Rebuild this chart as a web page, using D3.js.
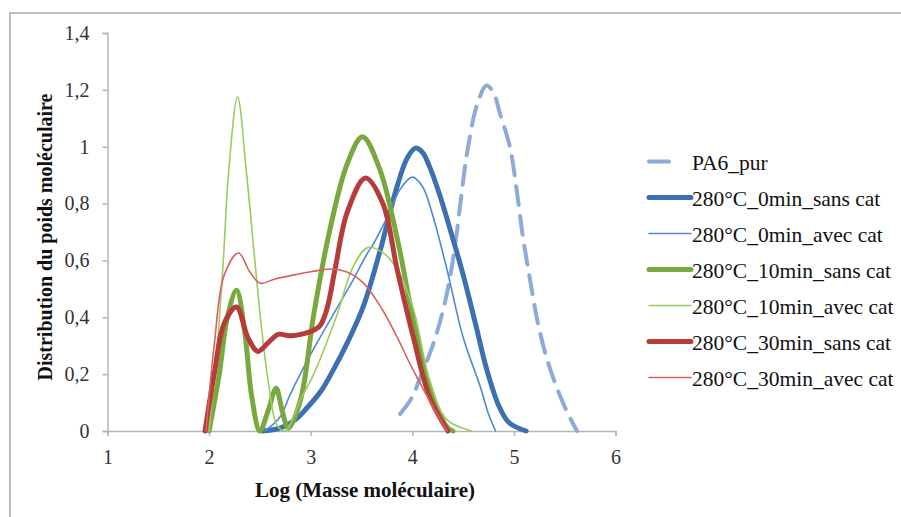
<!DOCTYPE html>
<html>
<head>
<meta charset="utf-8">
<script src="https://cdn.jsdelivr.net/npm/d3@7"></script>
<style>
  html, body { margin: 0; padding: 0; background: #fff; }
  svg { display: block; }
</style>
</head>
<body>
<svg id="chart" width="901" height="517"></svg>
<script>
// ---- data ----
const seriesNames = ["PA6_pur", "280°C_0min_sans cat", "280°C_0min_avec cat",
  "280°C_10min_sans cat", "280°C_10min_avec cat", "280°C_30min_sans cat", "280°C_30min_avec cat"];

const pa6X = [3.88, 4.0, 4.08, 4.18, 4.27, 4.35, 4.42, 4.48, 4.54, 4.64, 4.73, 4.8, 4.86, 4.96, 5.03, 5.09, 5.16, 5.23, 5.32, 5.42, 5.52, 5.62];
const pa6Y = [0.06, 0.12, 0.19, 0.28, 0.38, 0.5, 0.65, 0.82, 0.98, 1.15, 1.215, 1.19, 1.12, 1.0, 0.84, 0.68, 0.53, 0.39, 0.26, 0.155, 0.07, 0.0];

const s0X = [2.52, 2.7, 2.85, 2.96, 3.1, 3.2, 3.36, 3.52, 3.68, 3.85, 3.95, 4.03, 4.1, 4.17, 4.27, 4.38, 4.5, 4.62, 4.73, 4.85, 4.95, 5.12];
const s0Y = [0.0, 0.01, 0.04, 0.08, 0.14, 0.2, 0.31, 0.44, 0.63, 0.86, 0.96, 0.995, 0.98, 0.93, 0.83, 0.7, 0.55, 0.38, 0.22, 0.09, 0.03, 0.0];

const a0X = [2.55, 2.7, 2.8, 3.0, 3.19, 3.4, 3.55, 3.62, 3.75, 3.88, 4.0, 4.1, 4.2, 4.34, 4.5, 4.67, 4.75, 4.82];
const a0Y = [0.0, 0.05, 0.13, 0.27, 0.39, 0.52, 0.62, 0.66, 0.75, 0.85, 0.893, 0.86, 0.76, 0.57, 0.33, 0.155, 0.06, 0.0];

const s10X = [2.0, 2.1, 2.18, 2.27, 2.35, 2.42, 2.5, 2.58, 2.66, 2.72, 2.78, 2.9, 3.03, 3.19, 3.36, 3.51, 3.68, 3.85, 4.01, 4.17, 4.34, 4.4];
const s10Y = [0.0, 0.2, 0.4, 0.495, 0.35, 0.12, 0.0, 0.07, 0.15, 0.07, 0.01, 0.11, 0.41, 0.71, 0.94, 1.035, 0.92, 0.68, 0.39, 0.155, 0.015, 0.0];

const a10X = [2.0, 2.08, 2.14, 2.19, 2.28, 2.37, 2.45, 2.52, 2.58, 2.67, 2.75, 2.82, 2.9, 3.03, 3.26, 3.42, 3.56, 3.7, 3.85, 4.01, 4.17, 4.34, 4.58];
const a10Y = [0.0, 0.3, 0.6, 0.9, 1.175, 0.9, 0.6, 0.35, 0.18, 0.02, 0.0, 0.04, 0.11, 0.2, 0.41, 0.58, 0.645, 0.63, 0.57, 0.43, 0.18, 0.04, 0.0];

const s30X = [1.96, 2.05, 2.15, 2.27, 2.38, 2.48, 2.58, 2.68, 2.8, 3.0, 3.09, 3.16, 3.24, 3.36, 3.54, 3.71, 3.85, 4.01, 4.17, 4.35];
const s30Y = [0.0, 0.2, 0.38, 0.436, 0.33, 0.28, 0.31, 0.34, 0.335, 0.35, 0.37, 0.43, 0.57, 0.77, 0.89, 0.8, 0.57, 0.33, 0.12, 0.0];

const a30X = [1.97, 2.05, 2.15, 2.29, 2.4, 2.5, 2.65, 2.85, 3.0, 3.2, 3.35, 3.52, 3.7, 3.85, 4.0, 4.18, 4.34];
const a30Y = [0.0, 0.3, 0.55, 0.626, 0.56, 0.52, 0.535, 0.55, 0.56, 0.57, 0.56, 0.52, 0.43, 0.33, 0.22, 0.1, 0.0];

const xTicks = [1, 2, 3, 4, 5, 6];
const yTicks = [0, 0.2, 0.4, 0.6, 0.8, 1, 1.2, 1.4];
const xTitle = "Log (Masse moléculaire)";
const yTitle = "Distribution du poids moléculaire";

// ---- styles ----
const FONT = '"Liberation Serif", "Times New Roman", Times, Tinos, "DejaVu Serif", serif';
const styles = [
  { color: "#8eaad8", width: 4, dash: "19,11" },
  { color: "#3d70b0", width: 5, dash: null },
  { color: "#4d8ad6", width: 1.6, dash: null },
  { color: "#79a93e", width: 5, dash: null },
  { color: "#9ccb5f", width: 1.6, dash: null },
  { color: "#b63c3a", width: 5, dash: null },
  { color: "#d8625d", width: 1.6, dash: null }
];
const xs = [pa6X, s0X, a0X, s10X, a10X, s30X, a30X];
const ys = [pa6Y, s0Y, a0Y, s10Y, a10Y, s30Y, a30Y];

const svg = d3.select("#chart");

// outer frame (top and left edges visible)
svg.append("line").attr("x1", 10).attr("x2", 901).attr("y1", 13).attr("y2", 13)
  .attr("stroke", "#bdbdbd").attr("stroke-width", 2);
svg.append("line").attr("x1", 10).attr("x2", 10).attr("y1", 12).attr("y2", 517)
  .attr("stroke", "#bdbdbd").attr("stroke-width", 2);

const x = d3.scaleLinear().domain([1, 6]).range([107.5, 615.5]);
const y = d3.scaleLinear().domain([0, 1.4]).range([431, 33]);

const fmt = d => String(d).replace(".", ",");

const gx = svg.append("g").attr("transform", "translate(0,431)")
  .call(d3.axisBottom(x).tickValues(xTicks).tickFormat(fmt).tickSizeOuter(0).tickSize(5).tickPadding(14));
const gy = svg.append("g").attr("transform", "translate(107.5,0)")
  .call(d3.axisLeft(y).tickValues(yTicks).tickFormat(fmt).tickSizeOuter(0).tickSize(5).tickPadding(13));
[gx, gy].forEach(g => {
  g.attr("font-family", FONT);
  g.select(".domain").attr("stroke", "#b5b5b5").attr("stroke-width", 1.5);
  g.selectAll(".tick line").attr("stroke", "#b5b5b5").attr("stroke-width", 1.5);
  g.selectAll(".tick text").attr("fill", "#333").attr("font-size", 20).attr("font-family", FONT);
});

// lines
const line = d3.line().x(d => x(d[0])).y(d => y(d[1])).curve(d3.curveCatmullRom.alpha(0.5));
xs.forEach((xv, i) => {
  const pts = xv.map((v, k) => [v, ys[i][k]]);
  const p = svg.append("path").datum(pts).attr("d", line)
    .attr("fill", "none").attr("stroke", styles[i].color)
    .attr("stroke-width", styles[i].width)
    .attr("stroke-linecap", "round")
    .attr("stroke-linejoin", "round");
  if (styles[i].dash) p.attr("stroke-dasharray", styles[i].dash);
});

// axis titles
svg.append("text").attr("x", 365).attr("y", 497).attr("text-anchor", "middle")
  .attr("font-family", FONT).attr("font-size", 21).attr("font-weight", "bold").attr("fill", "#111").text(xTitle);
svg.append("text").attr("transform", "translate(52,237) rotate(-90)").attr("text-anchor", "middle")
  .attr("font-family", FONT).attr("font-size", 20).attr("font-weight", "bold").attr("fill", "#111").text(yTitle);

// legend
const lg = svg.append("g");
seriesNames.forEach((name, i) => {
  const cy = 161.5 + i * 36;
  const st = styles[i];
  lg.append("line").attr("x1", 649).attr("x2", st.dash ? 669 : 691).attr("y1", cy).attr("y2", cy)
    .attr("stroke", st.color).attr("stroke-width", st.width).attr("stroke-linecap", "round");
  lg.append("text").attr("x", 692).attr("y", cy + 8.5).attr("font-size", 21.5)
    .attr("font-family", FONT).attr("fill", "#111").text(name);
});
</script>
</body>
</html>
